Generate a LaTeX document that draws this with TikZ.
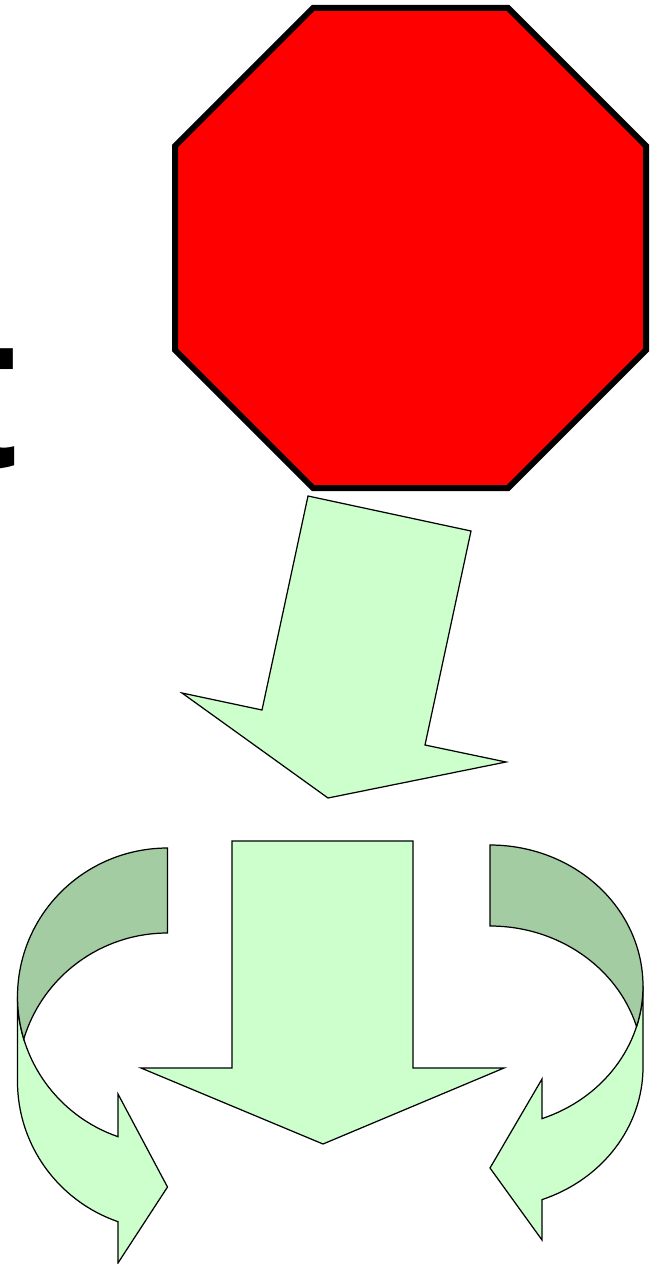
\documentclass[tikz,border=0pt]{standalone}
\usepackage{fontspec}
\setsansfont{Liberation Sans}
\usetikzlibrary{positioning}
\definecolor{stopred}{HTML}{FF0000}
\definecolor{ribbonlight}{HTML}{CCFFCC}
\definecolor{ribbondark}{HTML}{A3CCA3}

% curved ribbon arrow, tail at the origin:
% #1 width, #2 half radius, #3 band, #4 head length, #5 notch, #6 tip, #7 end
\newcommand{\ribbonarrow}[7]{%
  \pgfmathsetmacro{\xang}{asin(#3/(2*#2))}%
  \pgfmathsetmacro{\hang}{180-acos(#4/#1)}%
  \pgfmathsetmacro{\hlow}{#2+#3+#2*sin(\hang)}%
  \filldraw[ribbonfront] (-#1,#2)
    arc[start angle=180, end angle=\hang, x radius=#1, y radius=#2]
    -- (-#4,#5) -- (0,#6) -- (-#4,#7) -- (-#4,\hlow)
    arc[start angle=\hang, end angle=180, x radius=#1, y radius=#2] -- cycle;
  \filldraw[ribbonback] (0,#3)
    arc[start angle=-90, end angle=-180+\xang, x radius=#1, y radius=#2]
    arc[start angle=180-\xang, end angle=270, x radius=#1, y radius=#2] -- cycle;
}

\begin{document}
\begin{tikzpicture}[
  x=0.02cm, y=-0.02cm,
  octagon/.style={draw=black, line width=0.12cm, fill=stopred, line join=miter},
  blockarrow/.style={draw=black, line width=0.7pt, fill=ribbonlight, line join=miter},
  ribbonfront/.style={blockarrow},
  ribbonback/.style={blockarrow, fill=ribbondark},
  letter/.style={anchor=base east, inner sep=0pt,
                 font=\sffamily\bfseries\fontsize{128}{130}\selectfont}
]
\useasboundingbox (0,0) rectangle (656,1264);
\fill[white] (0,0) rectangle (656,1264);

% Letter cut by the left edge
\begin{scope}
  \clip (0,0) rectangle (656,1264);
  \node[letter] (tletter) at (18,467) {t};
\end{scope}

% Stop sign
\draw[octagon] (313,8) -- (508,8) -- (646,146) -- (646,350) -- (508,488)
  -- (313,488) -- (175,350) -- (175,146) -- cycle;

% Tilted arrow
\draw[blockarrow] (308,496) -- (471,531) -- (425,745) -- (506,762)
  -- (328,798) -- (182,693) -- (262,710) -- cycle;

% Straight arrow
\draw[blockarrow] (232,841) -- (413,841) -- (413,1068) -- (504,1068)
  -- (323,1144) -- (141,1068) -- (232,1068) -- cycle;

% Curved arrows
\begin{scope}[shift={(167.5,848)}]
  \ribbonarrow{150}{148.5}{85}{49.5}{246}{339}{415}
\end{scope}
\begin{scope}[shift={(490,845)}, xscale=-1]
  \ribbonarrow{153}{141}{81}{52}{234}{323}{395}
\end{scope}

\end{tikzpicture}
\end{document}
